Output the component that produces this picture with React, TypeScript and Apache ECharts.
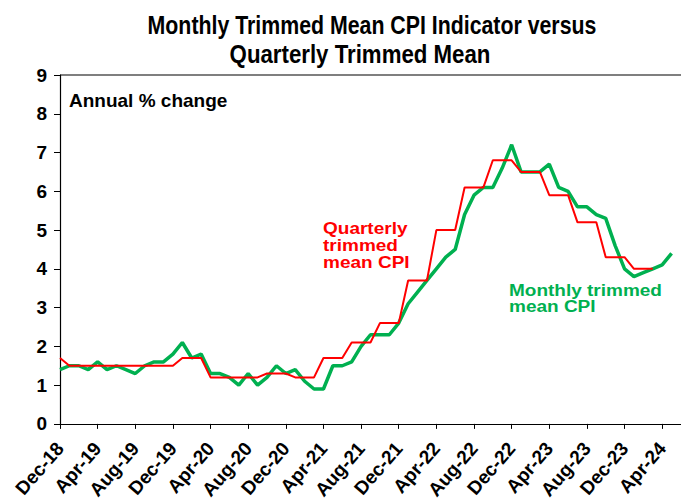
import React, { useEffect, useRef } from "react";
import * as echarts from "echarts";

const MONTH_NAMES = ["Jan", "Feb", "Mar", "Apr", "May", "Jun", "Jul", "Aug", "Sep", "Oct", "Nov", "Dec"];
// Dec-18 ... Jun-24 (axis runs one month past the last observation)
const categories: string[] = ["Dec-18"];
for (let y = 19; y <= 24; y++) {
  for (let m = 0; m < 12; m++) {
    if (y === 24 && m > 5) break;
    categories.push(`${MONTH_NAMES[m]}-${y}`);
  }
}

// Monthly trimmed mean CPI indicator, annual % change (Dec-18 .. May-24)
const monthlyTrimmed = [
  1.4, 1.5, 1.5, 1.4, 1.6, 1.4, 1.5, 1.4, 1.3, 1.5, 1.6, 1.6,
  1.8, 2.1, 1.7, 1.8, 1.3, 1.3, 1.2, 1.0, 1.3, 1.0, 1.2, 1.5,
  1.3, 1.4, 1.1, 0.9, 0.9, 1.5, 1.5, 1.6, 2.0, 2.3, 2.3, 2.3,
  2.6, 3.1, 3.4, 3.7, 4.0, 4.3, 4.5, 5.4, 5.9, 6.1, 6.1, 6.6,
  7.2, 6.5, 6.5, 6.5, 6.7, 6.1, 6.0, 5.6, 5.6, 5.4, 5.3, 4.6,
  4.0, 3.8, 3.9, 4.0, 4.1, 4.4,
];

// Quarterly trimmed mean CPI, shown for each month of its quarter (Dec-18 .. Mar-24)
const quarterlyTrimmed = [
  1.7, 1.5, 1.5, 1.5, 1.5, 1.5, 1.5, 1.5, 1.5, 1.5, 1.5, 1.5,
  1.5, 1.7, 1.7, 1.7, 1.2, 1.2, 1.2, 1.2, 1.2, 1.2, 1.3, 1.3,
  1.3, 1.2, 1.2, 1.2, 1.7, 1.7, 1.7, 2.1, 2.1, 2.1, 2.6, 2.6,
  2.6, 3.7, 3.7, 3.7, 5.0, 5.0, 5.0, 6.1, 6.1, 6.1, 6.8, 6.8,
  6.8, 6.5, 6.5, 6.5, 5.9, 5.9, 5.9, 5.2, 5.2, 5.2, 4.3, 4.3,
  4.3, 4.0, 4.0, 4.0,
];

const yTicks = [0, 1, 2, 3, 4, 5, 6, 7, 8, 9];

const FONT = '"Liberation Sans", Arial, sans-serif';

function txt(
  text: string,
  x: number,
  y: number,
  size: number,
  color: string,
  align: string,
  scaleX = 1,
  lineHeight?: number,
  scaleY = 1
) {
  return {
    type: "text",
    x,
    y,
    scaleX,
    scaleY,
    z: 100,
    style: {
      text,
      fill: color,
      font: `bold ${size}px ${FONT}`,
      lineHeight: lineHeight ?? size * 1.2,
      align,
      textAlign: align,
      verticalAlign: "middle",
      textVerticalAlign: "middle",
    },
  };
}

export default function App() {
  const ref = useRef<HTMLDivElement>(null);
  useEffect(() => {
    if (!ref.current) return;
    const chart = echarts.init(ref.current, null, { renderer: "svg" });
    chart.setOption({
      animation: false,
      backgroundColor: "#ffffff",
      grid: { left: 60, top: 75, width: 622.2, height: 349.3, containLabel: false },
      xAxis: {
        type: "category",
        data: categories,
        boundaryGap: false,
        axisLine: { lineStyle: { color: "#000", width: 1.2 } },
        axisTick: { interval: 3, length: 5, lineStyle: { color: "#000" } },
        axisLabel: {
          interval: 3,
          rotate: 49,
          margin: 21,
          color: "#000",
          fontWeight: "bold",
          fontSize: 19,
          fontFamily: FONT,
        },
        splitLine: { show: false },
      },
      yAxis: {
        type: "value",
        min: yTicks[0],
        max: yTicks[yTicks.length - 1],
        interval: 1,
        axisLine: { show: true, lineStyle: { color: "#000", width: 1.2 } },
        axisTick: { show: true, length: 6, lineStyle: { color: "#000" } },
        axisLabel: {
          margin: 13,
          color: "#000",
          fontWeight: "bold",
          fontSize: 19,
          fontFamily: FONT,
        },
        splitLine: { show: false },
      },
      series: [
        {
          name: "Monthly trimmed mean CPI",
          type: "line",
          data: monthlyTrimmed,
          showSymbol: false,
          lineStyle: { color: "#00B050", width: 3.5 },
          itemStyle: { color: "#00B050" },
          z: 2,
        },
        {
          name: "Quarterly trimmed mean CPI",
          type: "line",
          data: quarterlyTrimmed,
          showSymbol: false,
          lineStyle: { color: "#FF0000", width: 2 },
          itemStyle: { color: "#FF0000" },
          z: 3,
        },
      ],
      graphic: [
        {
          type: "line",
          shape: { x1: 60, y1: 75, x2: 681, y2: 75 },
          style: { stroke: "#555", lineWidth: 1.5 },
        },
        txt("Monthly Trimmed Mean CPI Indicator versus", 372, 25.5, 25, "#000", "center", 0.853),
        txt("Quarterly Trimmed Mean", 360, 54.5, 25, "#000", "center", 0.89),
        txt("Annual % change", 69, 100, 19, "#000", "left"),
        txt("Quarterly\ntrimmed\nmean CPI", 323, 245, 19, "#FF0000", "left", 1, 19.4, 0.876),
        txt("Monthly trimmed\nmean CPI", 509, 298.3, 19, "#00B050", "left", 1, 19, 0.87),
      ],
    });
    return () => chart.dispose();
  }, []);
  return (
    <div
      ref={ref}
      style={{ position: "absolute", left: 0, top: 0, width: 681, height: 502, background: "#fff" }}
    />
  );
}
